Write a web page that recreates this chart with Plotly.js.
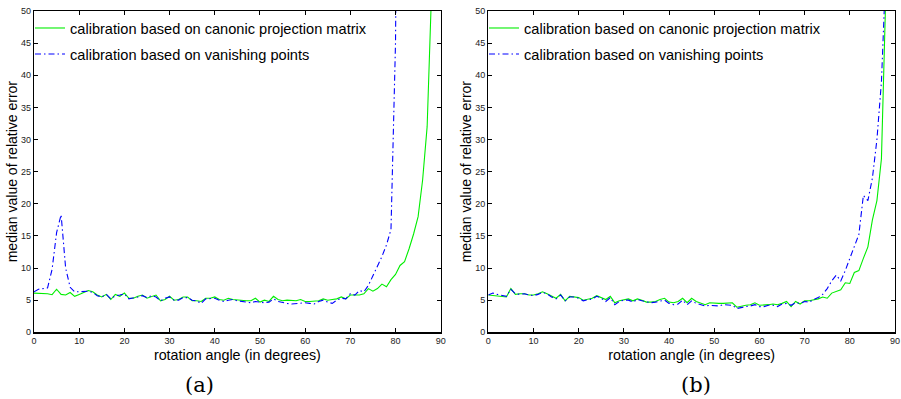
<!DOCTYPE html>
<html>
<head>
<meta charset="utf-8">
<script src="https://cdn.plot.ly/plotly-3.0.1.min.js"></script>
<style>html,body{margin:0;padding:0;background:#fff;}#chart{width:901px;height:399px;}</style>
</head>
<body>
<div id="chart"></div>
<script>
// rotation angles (degrees)
const anglesA = Array.from({length: 90}, (_, i) => i);
const anglesBlueA = Array.from({length: 82}, (_, i) => i);
const anglesB = Array.from({length: 90}, (_, i) => i);

// (a) calibration based on canonic projection matrix
const canonicA = [6.1,6.1,6.05,6.0,5.85,6.7,5.9,5.8,6.2,5.6,5.9,6.2,6.5,6.3,5.8,5.5,5.9,5.1,5.9,5.6,
  6.1,5.3,5.3,5.6,5.8,5.3,5.6,5.8,4.9,5.1,5.6,5.0,5.1,5.5,5.5,4.9,4.9,4.8,5.3,5.3,
  5.5,5.1,5.0,5.3,5.1,5.0,5.0,4.9,4.9,5.3,4.7,5.0,4.8,5.6,5.1,4.9,5.0,4.9,4.9,5.1,
  4.8,4.8,4.8,4.9,5.2,5.0,5.1,5.2,5.5,5.2,5.8,5.8,5.8,6.0,6.8,6.4,6.8,7.5,7.1,8.2,
  9.0,10.4,11.0,13.0,15.3,18.0,23.7,32,48,75];
// (a) calibration based on vanishing points
const vanishingA = [6.3,6.7,6.8,6.9,9.8,15.5,18.3,10.0,7.0,6.3,6.3,6.4,6.4,6.2,5.7,5.5,5.9,5.2,5.7,5.8,
  6.0,5.2,5.3,5.5,5.7,5.4,5.7,5.5,4.9,5.3,5.5,5.0,5.0,5.4,5.4,5.0,4.9,4.5,5.2,5.2,
  5.3,5.0,4.8,5.0,5.1,4.9,4.8,4.6,4.6,4.8,4.7,4.6,4.7,5.2,4.8,4.6,4.5,4.4,4.5,4.6,
  4.6,4.5,4.4,4.8,5.0,4.7,4.5,5.0,5.3,5.2,6.0,5.8,6.5,6.3,7.3,8.8,10.3,11.8,13.6,16.0,
  45,130];
// (b) calibration based on canonic projection matrix
const canonicB = [5.8,5.7,5.7,5.6,5.5,6.8,5.9,6.0,6.0,5.8,5.8,6.0,6.3,6.0,5.6,5.3,5.9,4.9,5.6,5.5,
  5.4,5.0,5.2,5.3,5.7,5.4,5.1,5.6,4.6,4.9,5.0,5.2,4.9,5.2,5.0,4.7,4.7,4.8,5.1,5.3,
  4.7,4.6,4.8,5.3,4.6,5.3,4.8,4.5,4.3,4.6,4.5,4.5,4.5,4.6,4.6,3.9,4.1,4.2,4.3,4.6,
  4.2,4.2,4.3,4.4,4.3,4.5,4.8,4.0,4.8,4.4,4.9,4.9,5.0,5.2,5.5,5.3,6.1,6.4,6.6,7.7,
  7.6,9.3,9.6,11.5,13.3,17.5,20.5,27,46,80];
// (b) calibration based on vanishing points
const vanishingB = [5.8,6.1,5.9,5.7,5.6,6.7,6.0,5.9,6.0,5.8,5.7,5.9,6.2,6.0,5.5,5.2,5.8,4.9,5.5,5.5,
  5.3,4.9,5.1,5.2,5.6,5.3,4.8,5.4,4.3,4.8,5.0,5.0,4.7,5.1,4.9,4.7,4.6,4.7,4.9,5.0,
  4.5,4.3,4.4,5.0,4.3,4.9,4.5,4.3,4.1,4.2,4.2,4.1,4.3,4.3,4.2,3.7,3.9,4.0,4.1,4.3,
  4.0,4.0,4.2,4.2,4.0,4.4,4.5,4.2,4.6,4.5,4.8,4.7,5.1,5.4,5.9,6.8,8.0,8.9,8.0,9.6,
  11.5,13.2,15.2,21.3,20.5,24,30,39,52,75];

const xTicks = [0,10,20,30,40,50,60,70,80,90];
const yTicks = [0,5,10,15,20,25,30,35,40,45,50];
const nameCanonic = 'calibration based on canonic projection matrix';
const nameVanishing = 'calibration based on vanishing points';
const panelLabels = ['(a)', '(b)'];

const green = '#00ee00';
const blue = '#0000ff';
const dashDot = '6px,3px,1.5px,3px';

const traces = [
  {x: anglesA, y: canonicA, name: nameCanonic, type: 'scatter', mode: 'lines', line: {color: green, width: 1.1}, xaxis: 'x', yaxis: 'y', legend: 'legend', legendgroup: 'a1'},
  {x: anglesBlueA, y: vanishingA, name: nameVanishing, type: 'scatter', mode: 'lines', line: {color: blue, width: 1.1, dash: dashDot}, xaxis: 'x', yaxis: 'y', legend: 'legend', legendgroup: 'a2'},
  {x: anglesB, y: canonicB, name: nameCanonic, type: 'scatter', mode: 'lines', line: {color: green, width: 1.1}, xaxis: 'x2', yaxis: 'y2', legend: 'legend2', legendgroup: 'b1'},
  {x: anglesB, y: vanishingB, name: nameVanishing, type: 'scatter', mode: 'lines', line: {color: blue, width: 1.1, dash: dashDot}, xaxis: 'x2', yaxis: 'y2', legend: 'legend2', legendgroup: 'b2'}
];

const W = 901, H = 399;
const font = {family: '"Liberation Sans", Arial, Helvetica, sans-serif', color: '#000'};

function xAxis(domain, anchor) {
  return {
    domain: domain, anchor: anchor, range: [0, 90], tickvals: xTicks, ticktext: xTicks.map(String),
    ticks: 'inside', ticklen: 4, tickwidth: 1, tickcolor: '#000', showline: true, linecolor: '#000', linewidth: 1.2,
    mirror: 'ticks', showgrid: false, zeroline: false, automargin: false,
    tickfont: {family: font.family, size: 9, color: '#222'},
    title: {text: 'rotation angle (in degrees)', font: {family: font.family, size: 14.3, color: '#000'}, standoff: 4}
  };
}
function yAxis(domain, anchor) {
  return {
    domain: domain, anchor: anchor, range: [0, 50], tickvals: yTicks, ticktext: yTicks.map(String),
    ticks: 'inside', ticklen: 4, tickwidth: 1, tickcolor: '#000', showline: true, linecolor: '#000', linewidth: 1.2,
    mirror: 'ticks', showgrid: false, zeroline: false, automargin: false,
    tickfont: {family: font.family, size: 9, color: '#222'},
    title: {text: 'median value of relative error', font: {family: font.family, size: 14, color: '#000'}, standoff: 0}
  };
}

const yDom = [1 - 332.3 / H, 1 - 11 / H];
const legendFont = {family: font.family, size: 14.6, color: '#000'};
const panelFont = {family: '"DejaVu Serif", "Liberation Serif", serif', size: 21, color: '#000'};
const layout = {
  width: W, height: H,
  margin: {l: 0, r: 0, t: 0, b: 0},
  paper_bgcolor: '#fff', plot_bgcolor: '#fff',
  font: font,
  showlegend: true,
  xaxis: xAxis([34 / W, 440.7 / W], 'y'),
  yaxis: yAxis(yDom, 'x'),
  xaxis2: xAxis([488.3 / W, 895 / W], 'y2'),
  yaxis2: yAxis(yDom, 'x2'),
  legend: {x: 30 / W, y: 1 - 12 / H, xanchor: 'left', yanchor: 'top', bgcolor: 'rgba(0,0,0,0)', borderwidth: 0,
    font: legendFont, tracegroupgap: 4},
  legend2: {x: 484 / W, y: 1 - 12 / H, xanchor: 'left', yanchor: 'top', bgcolor: 'rgba(0,0,0,0)', borderwidth: 0,
    font: legendFont, tracegroupgap: 4},
  annotations: [
    {text: panelLabels[0], xref: 'paper', yref: 'paper', x: 199 / W, y: 1 - 385 / H, xanchor: 'center', yanchor: 'middle', showarrow: false, font: panelFont},
    {text: panelLabels[1], xref: 'paper', yref: 'paper', x: 696 / W, y: 1 - 385 / H, xanchor: 'center', yanchor: 'middle', showarrow: false, font: panelFont}
  ]
};

Plotly.newPlot('chart', traces, layout, {displayModeBar: false, staticPlot: true});
</script>
</body>
</html>
